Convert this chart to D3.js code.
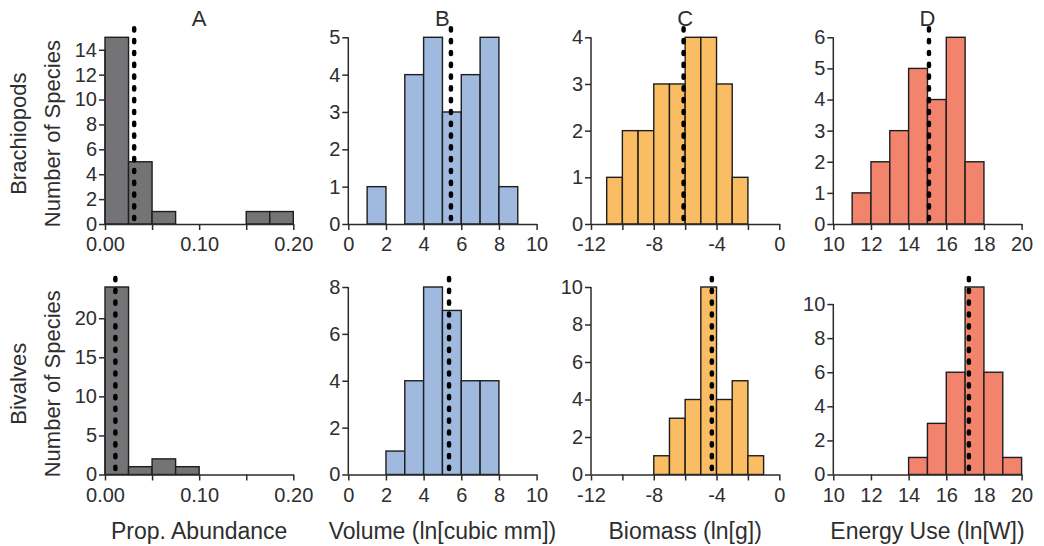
<!DOCTYPE html>
<html>
<head>
<meta charset="utf-8">
<script src="https://cdn.jsdelivr.net/npm/d3@7"></script>
<style>
  html, body { margin: 0; padding: 0; background: #fff; }
  svg { display: block; font-family: "Liberation Sans", Arial, sans-serif; }
</style>
</head>
<body>
<svg id="chart" width="1044" height="546"></svg>
<script>
// ---------------- data ----------------
const panelTitles = ["A", "B", "C", "D"];
const xAxisLabels = ["Prop. Abundance", "Volume (ln[cubic mm])", "Biomass (ln[g])", "Energy Use (ln[W])"];
const rowLabels = ["Brachiopods", "Bivalves"];
const yAxisLabel = "Number of Species";
const barColors = ["#747476", "#9fb9df", "#fbbd63", "#f2846e"];

const xDomains = [[0, 0.2], [0, 10], [-12, 0], [10, 20]];
const binWidths = [0.025, 1, 1, 1];
const xTickValues = [
  [0, 0.05, 0.10, 0.15, 0.20],
  [0, 2, 4, 6, 8, 10],
  [-12, -10, -8, -6, -4, -2, 0],
  [10, 12, 14, 16, 18, 20]
];
const xTickLabelValues = [
  [0, 0.10, 0.20],
  [0, 2, 4, 6, 8, 10],
  [-12, -8, -4, 0],
  [10, 12, 14, 16, 18, 20]
];

// Brachiopods (top row)
const brachAbundStarts = [0, 0.025, 0.05, 0.15, 0.175];
const brachAbundCounts = [15, 5, 1, 1, 1];
const brachVolumeStarts = [1, 3, 4, 5, 6, 7, 8];
const brachVolumeCounts = [1, 4, 5, 3, 4, 5, 1];
const brachBiomassStarts = [-11, -10, -9, -8, -7, -6, -5, -4, -3];
const brachBiomassCounts = [1, 2, 2, 3, 3, 4, 4, 3, 1];
const brachEnergyStarts = [11, 12, 13, 14, 15, 16, 17];
const brachEnergyCounts = [1, 2, 3, 5, 4, 6, 2];
const brachMedians = [0.031, 5.45, -6.1, 15.08];
const brachYMax = [15, 5, 4, 6];
const brachYTicks = [
  [0, 2, 4, 6, 8, 10, 12, 14],
  [0, 1, 2, 3, 4, 5],
  [0, 1, 2, 3, 4],
  [0, 1, 2, 3, 4, 5, 6]
];

// Bivalves (bottom row)
const bivAbundStarts = [0, 0.025, 0.05, 0.075];
const bivAbundCounts = [24, 1, 2, 1];
const bivVolumeStarts = [2, 3, 4, 5, 6, 7];
const bivVolumeCounts = [1, 4, 8, 7, 4, 4];
const bivBiomassStarts = [-8, -7, -6, -5, -4, -3, -2];
const bivBiomassCounts = [1, 3, 4, 10, 4, 5, 1];
const bivEnergyStarts = [14, 15, 16, 17, 18, 19];
const bivEnergyCounts = [1, 3, 6, 11, 6, 1];
const bivMedians = [0.011, 5.35, -4.3, 17.2];
const bivYMax = [24, 8, 10, 11];
const bivYTicks = [
  [0, 5, 10, 15, 20],
  [0, 2, 4, 6, 8],
  [0, 2, 4, 6, 8, 10],
  [0, 2, 4, 6, 8, 10]
];

// ---------------- layout ----------------
const svg = d3.select("#chart");
const textColor = "#2e2e2e";
const panelLefts = [105, 348.3, 591, 833.3];
const panelWidth = 188.3;
const rows = [
  { y0: 224, yTop: 37.3,
    starts: [brachAbundStarts, brachVolumeStarts, brachBiomassStarts, brachEnergyStarts],
    counts: [brachAbundCounts, brachVolumeCounts, brachBiomassCounts, brachEnergyCounts],
    medians: brachMedians, yMax: brachYMax, yTicks: brachYTicks, label: rowLabels[0] },
  { y0: 474.5, yTop: 287,
    starts: [bivAbundStarts, bivVolumeStarts, bivBiomassStarts, bivEnergyStarts],
    counts: [bivAbundCounts, bivVolumeCounts, bivBiomassCounts, bivEnergyCounts],
    medians: bivMedians, yMax: bivYMax, yTicks: bivYTicks, label: rowLabels[1] }
];

const tickFont = 20;
const labelFont = 23;

rows.forEach((row, ri) => {
  for (let p = 0; p < 4; p++) {
    const x = d3.scaleLinear().domain(xDomains[p]).range([panelLefts[p], panelLefts[p] + panelWidth]);
    const y = d3.scaleLinear().domain([0, row.yMax[p]]).range([row.y0, row.yTop]);
    const g = svg.append("g");

    const bins = row.starts[p].map((s, i) => ({ x0: s, x1: s + binWidths[p], n: row.counts[p][i] }));
    g.selectAll("rect.bar").data(bins).join("rect")
      .attr("class", "bar")
      .attr("x", d => x(d.x0))
      .attr("width", d => x(d.x1) - x(d.x0))
      .attr("y", d => y(d.n))
      .attr("height", d => y(0) - y(d.n))
      .attr("fill", barColors[p])
      .attr("stroke", "#1e1e1e")
      .attr("stroke-width", 1.4);

    // median dotted line
    g.append("line")
      .attr("x1", x(row.medians[p])).attr("x2", x(row.medians[p]))
      .attr("y1", y(row.yMax[p]) - 9).attr("y2", y(0) - 5)
      .attr("stroke", "#000")
      .attr("stroke-width", 4.5)
      .attr("stroke-linecap", "round")
      .attr("stroke-dasharray", "2.2 9.6");

    // x axis
    const labelSet = new Set(xTickLabelValues[p].map(v => +v.toFixed(4)));
    const fmt = p === 0 ? d3.format(".2f") : d3.format("d");
    const xAxis = d3.axisBottom(x)
      .tickValues(xTickValues[p])
      .tickSize(6)
      .tickSizeOuter(0)
      .tickPadding(7)
      .tickFormat(v => labelSet.has(+v.toFixed(4)) ? fmt(v).replace("\u2212", "-") : "");
    const xg = g.append("g").attr("transform", `translate(0,${row.y0})`).call(xAxis);
    xg.select(".domain").attr("stroke", "#2b2b2b").attr("stroke-width", 1.5);
    xg.selectAll(".tick line").attr("stroke", "#2b2b2b").attr("stroke-width", 1.5);
    xg.selectAll(".tick text").attr("fill", textColor).attr("font-size", tickFont)
      .attr("font-family", "'Liberation Sans', Arial, sans-serif");

    // y axis
    const yTicks = row.yTicks[p];
    const yAxis = d3.axisLeft(y)
      .tickValues(yTicks)
      .tickSize(6)
      .tickSizeOuter(0)
      .tickPadding(2)
      .tickFormat(d3.format("d"));
    const yg = g.append("g").attr("transform", `translate(${panelLefts[p]},0)`).call(yAxis);
    yg.select(".domain").remove();
    yg.append("line")
      .attr("x1", 0).attr("x2", 0)
      .attr("y1", y(0)).attr("y2", y(yTicks[yTicks.length - 1]))
      .attr("stroke", "#2b2b2b").attr("stroke-width", 1.5);
    yg.selectAll(".tick line").attr("stroke", "#2b2b2b").attr("stroke-width", 1.5);
    yg.selectAll(".tick text").attr("fill", textColor).attr("font-size", tickFont)
      .attr("font-family", "'Liberation Sans', Arial, sans-serif");

    const cx = panelLefts[p] + panelWidth / 2;
    if (ri === 0) {
      svg.append("text")
        .attr("x", cx).attr("y", 26)
        .attr("text-anchor", "middle")
        .attr("font-size", 22)
        .attr("fill", textColor)
        .text(panelTitles[p]);
    } else {
      svg.append("text")
        .attr("x", cx).attr("y", 539)
        .attr("text-anchor", "middle")
        .attr("font-size", labelFont)
        .attr("fill", textColor)
        .text(xAxisLabels[p]);
    }
  }

  const cy = (row.y0 + row.yTop) / 2 + 3;
  svg.append("text")
    .attr("transform", `translate(60,${cy}) rotate(-90)`)
    .attr("text-anchor", "middle")
    .attr("font-size", 22)
    .attr("fill", textColor)
    .text(yAxisLabel);
  svg.append("text")
    .attr("transform", `translate(26,${cy}) rotate(-90)`)
    .attr("text-anchor", "middle")
    .attr("font-size", 22)
    .attr("fill", textColor)
    .text(row.label);
});
</script>
</body>
</html>
